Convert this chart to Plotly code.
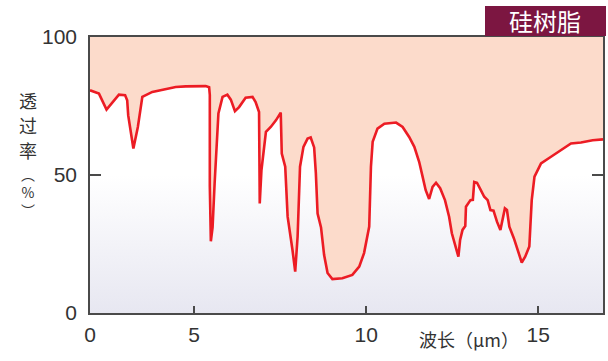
import plotly.graph_objects as go

# ---- data ----
wavelength = [1.98, 2.24, 2.46, 2.63, 2.82, 3.0, 3.06, 3.09, 3.24, 3.37, 3.5, 3.79, 4.08, 4.47, 4.76,
              5.1, 5.34, 5.44, 5.46, 5.46, 5.46, 5.49, 5.54, 5.6, 5.66, 5.71, 5.83, 5.97, 6.07, 6.19,
              6.31, 6.5, 6.7, 6.79, 6.89, 6.91, 6.91, 6.96, 7.04, 7.09, 7.23, 7.38, 7.52, 7.55, 7.65,
              7.72, 7.86, 7.94, 8.01, 8.08, 8.18, 8.3, 8.39, 8.49, 8.54, 8.59, 8.69, 8.78, 8.88, 9.02,
              9.31, 9.6, 9.8, 9.94, 10.09, 10.12, 10.14, 10.19, 10.33, 10.53, 10.87, 11.06, 11.25,
              11.4, 11.54, 11.64, 11.73, 11.83, 11.93, 12.03, 12.15, 12.29, 12.41, 12.49, 12.59,
              12.68, 12.73, 12.8, 12.88, 12.9, 13.03, 13.1, 13.14, 13.22, 13.32, 13.43, 13.53, 13.61,
              13.7, 13.8, 13.9, 13.96, 14.03, 14.09, 14.16, 14.29, 14.4, 14.52, 14.62, 14.74, 14.77,
              14.81, 14.89, 15.08, 15.37, 15.66, 15.95, 16.24, 16.58, 16.88]
transmittance = [80.7, 79.5, 73.7, 76.4, 79.1, 78.9, 77.1, 71.6, 59.6, 67.4, 78.3, 80.1, 80.9, 81.9, 82.1,
                 82.1, 82.2, 81.8, 79.0, 60.0, 46.0, 26.0, 31.0, 47.0, 61.4, 72.3, 78.3, 79.1, 77.3, 73.1,
                 74.6, 78.0, 78.3, 76.4, 72.8, 55.4, 39.7, 51.8, 60.2, 65.6, 67.4, 69.8, 72.6, 57.8, 53.0,
                 34.9, 22.9, 15.0, 27.7, 53.0, 60.2, 63.2, 63.6, 60.0, 50.6, 36.0, 31.0, 21.0, 14.5, 12.3,
                 12.6, 13.8, 16.8, 21.7, 31.3, 40.9, 53.0, 62.0, 66.8, 68.6, 69.0, 67.4, 63.8,
                 60.2, 54.8, 49.4, 44.5, 41.3, 45.7, 47.2, 45.2, 40.9, 34.9, 28.9, 24.1,
                 20.4, 26.5, 30.1, 31.5, 38.5, 40.9, 41.0, 47.5, 47.2, 44.8, 42.1, 40.9, 37.3,
                 37.1, 33.1, 30.1, 33.7, 37.9, 37.3, 31.3, 27.1, 22.9, 18.3, 20.4, 24.1, 31.3,
                 40.9, 49.4, 54.2, 56.6, 59.0, 61.4, 61.8, 62.6, 62.9]

x_range = [1.98, 16.88]
y_range = [0, 100]
x_tickvals = [1.98, 5, 10, 15]
x_ticktext = ["0", "5", "10", "15"]
y_tickvals = [0, 50, 100]
y_ticktext = ["0", "50", "100"]

title_text = "硅树脂"
y_title_top = ["透", "过", "率"]
y_title_unit = "︵<br>%<br>︶"
x_title = "波长（μm）"

# ---- layout geometry (pixels) ----
W, H = 608, 361
ML, MR, MT, MB = 90, 5, 37, 48
PW, PH = W - ML - MR, H - MT - MB


def px(xp):
    return (xp - ML) / PW


def py(yp):
    return (H - MB - yp) / PH


fig = go.Figure()

# gradient background (white -> light lavender at bottom)
fig.add_trace(go.Scatter(
    x=[x_range[0], x_range[1], x_range[1], x_range[0], x_range[0]],
    y=[y_range[0], y_range[0], y_range[1], y_range[1], y_range[0]],
    mode="none", fill="toself",
    fillgradient=dict(type="vertical", start=0, stop=100,
                      colorscale=[[0, "#E7E7F1"], [0.5, "#FFFFFF"], [1, "#FFFFFF"]]),
    hoverinfo="skip", showlegend=False))

# peach fill above the curve
fig.add_trace(go.Scatter(
    x=wavelength + [x_range[1], x_range[0]],
    y=transmittance + [100, 100],
    mode="none", fill="toself", fillcolor="#FCDBCB",
    hoverinfo="skip", showlegend=False))

# red transmittance line
fig.add_trace(go.Scatter(
    x=wavelength, y=transmittance, mode="lines",
    line=dict(color="#EC1C24", width=2.6),
    showlegend=False))

axis_color = "#4a4a4a"
tick_font = dict(family="Liberation Sans, Arial, sans-serif", size=21, color="#333333")

fig.update_xaxes(range=x_range, tickvals=x_tickvals, ticktext=x_ticktext,
                 ticks="inside", ticklen=7, tickwidth=1.5, tickcolor=axis_color,
                 showline=True, linecolor=axis_color, linewidth=1.5, mirror=True,
                 showgrid=False, zeroline=False, tickfont=tick_font, ticklabelstandoff=2,
                 automargin=False)
fig.update_yaxes(range=y_range, tickvals=y_tickvals, ticktext=y_ticktext,
                 ticks="inside", ticklen=11, tickwidth=1.5, tickcolor=axis_color,
                 showline=True, linecolor=axis_color, linewidth=1.5, mirror="ticks",
                 showgrid=False, zeroline=False, tickfont=tick_font, ticklabelstandoff=7,
                 automargin=False)

annotations = []
# title box text
annotations.append(dict(x=px(545), y=py(21), xref="paper", yref="paper",
                        text=title_text, showarrow=False,
                        font=dict(family="Noto Sans CJK SC", size=24, color="white"),
                        xanchor="center", yanchor="middle"))
# vertical y-axis title
for ch, yp in zip(y_title_top, [100, 125, 150]):
    annotations.append(dict(x=px(28), y=py(yp), xref="paper", yref="paper",
                            text=ch, showarrow=False,
                            font=dict(family="Noto Sans CJK SC", size=18, color="#333333"),
                            xanchor="center", yanchor="middle"))
annotations.append(dict(x=px(28), y=py(192), xref="paper", yref="paper",
                        text=y_title_unit, showarrow=False,
                        font=dict(family="Noto Sans CJK SC", size=14, color="#333333"),
                        xanchor="center", yanchor="middle"))
# x-axis title
annotations.append(dict(x=px(469), y=py(339), xref="paper", yref="paper",
                        text=x_title, showarrow=False,
                        font=dict(family="Noto Sans CJK SC", size=18, color="#333333"),
                        xanchor="center", yanchor="middle"))

fig.update_layout(
    width=W, height=H,
    margin=dict(l=ML, r=MR, t=MT, b=MB, autoexpand=False),
    paper_bgcolor="white", plot_bgcolor="white",
    showlegend=False,
    annotations=annotations,
    shapes=[dict(type="rect", xref="paper", yref="paper",
                 x0=px(485), x1=px(606), y0=py(36), y1=py(6),
                 fillcolor="#7C1641", line=dict(width=0), layer="above")],
)

fig.write_html("out.html",
               config={"displayModeBar": False},
               post_script="document.body.style.margin='0';document.body.style.overflow='hidden';")
